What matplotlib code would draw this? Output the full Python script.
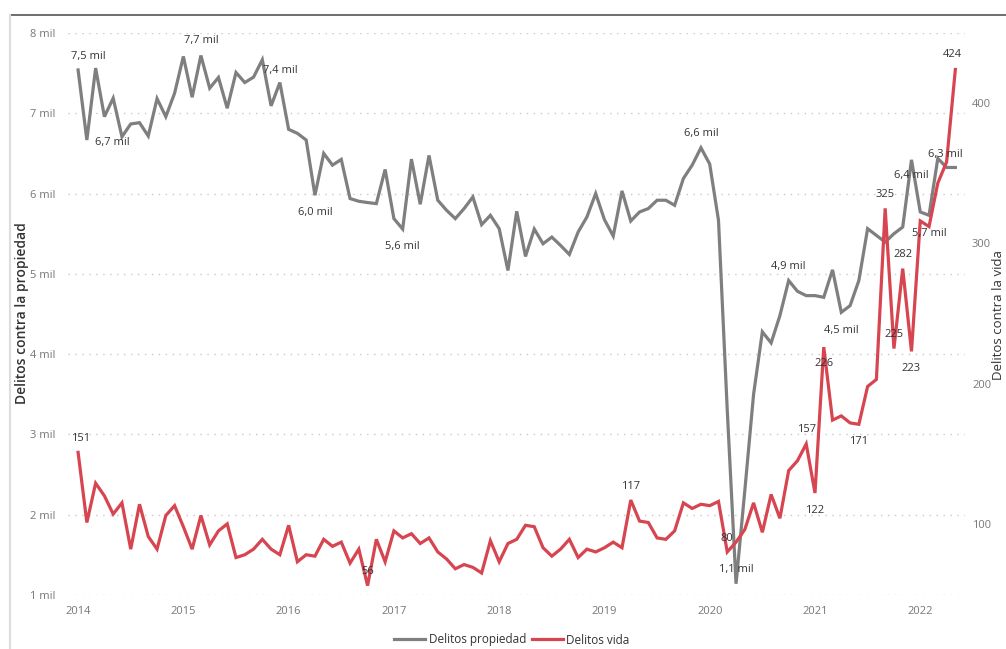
import numpy as np
import matplotlib
matplotlib.use("Agg")
import matplotlib.pyplot as plt
from matplotlib.lines import Line2D

plt.rcParams['font.family'] = ['Open Sans', 'DejaVu Sans']

# monthly series, Jan 2014 .. May 2022
propiedad = [
    7540, 6667, 7563, 6958, 7188, 6708, 6867, 6883, 6717, 7183, 6958, 7250,
    7708, 7200, 7720, 7313, 7446, 7063, 7508, 7383, 7450, 7667, 7092, 7383,
    6800, 6750, 6667, 5979, 6500, 6354, 6425, 5938, 5904, 5888, 5875, 6300,
    5688, 5558, 6429, 5867, 6475, 5917, 5792, 5688, 5813, 5958, 5613, 5729,
    5563, 5042, 5779, 5217, 5558, 5375, 5458, 5354, 5242, 5521, 5708, 6000,
    5675, 5471, 6033, 5658, 5771, 5813, 5917, 5917, 5854, 6188, 6354, 6571,
    6367, 5667, 3300, 1140, 2300, 3500, 4278, 4140, 4480, 4917, 4783, 4729,
    4729, 4708, 5050, 4521, 4604, 4917, 5563, 5479, 5396, 5500, 5583, 6420,
    5771, 5729, 6438, 6325, 6325,
]
vida = [
    151, 101, 129, 120, 107, 115, 82, 114, 91, 82, 106, 113,
    98, 82, 106, 85, 95, 100, 76, 78, 82, 89, 82, 78,
    99, 73, 78, 77, 89, 84, 87, 72, 82, 56, 89, 73,
    95, 90, 93, 86, 90, 80, 75, 68, 71, 69, 65, 88,
    73, 86, 89, 99, 98, 83, 77, 82, 89, 76, 82, 80,
    83, 87, 83, 117, 102, 101, 90, 89, 95, 115, 111, 114,
    113, 116, 80, 87, 96, 115, 94, 121, 104, 138, 145, 157,
    122, 226, 174, 177, 172, 171, 198, 203, 325, 225, 282, 223,
    316, 312, 343, 358, 424,
]
years = ['2014', '2015', '2016', '2017', '2018', '2019', '2020', '2021', '2022']

# (index, dx px, dy px) of data labels
lab_prop = [(0, 10, 13), (5, -10, -6), (14, 0, 15), (23, 0, 12), (27, 0, -17),
            (37, 0, -17), (71, 0, 14), (75, 0, 14), (81, 0, 14), (87, 0, -18),
            (95, 0, -16), (97, 0, -18), (99, -1, 13)]
lab_vida = [(0, 3, 14), (33, 0, 14), (63, 0, 14), (74, 0, 13), (83, 0, 14),
            (84, 0, -17), (85, 0, -16), (89, 0, -17), (92, 0, 14), (93, 0, 14),
            (94, 0, 14), (95, 0, -17), (100, -3, 15)]

x = np.arange(len(propiedad))
grey = '#7f7f7f'
red = '#d64550'
tick_col = '#777777'
txt_col = '#333333'

fig = plt.figure(figsize=(10.06, 6.49), dpi=100)
W, H = 1006, 649
ax = fig.add_axes([68 / W, 1 - 595 / H, (965 - 68) / W, (595 - 33) / H])
ax2 = ax.twinx()

ax.plot(x, propiedad, color=grey, lw=2.3, solid_joinstyle='miter')
ax2.plot(x, vida, color=red, lw=2.3, solid_joinstyle='miter')

ax.set_xlim(-1.15, 101.1)
ax.set_ylim(1000, 8000)
ax2.set_ylim(49.3, 450)

ax.set_xticks(np.arange(0, 97, 12))
ax.set_xticklabels(years)
ax.set_yticks(np.arange(1000, 8001, 1000))
ax.set_yticklabels([f"{v // 1000} mil" for v in range(1000, 8001, 1000)])
ax2.set_yticks([100, 200, 300, 400])

for a in (ax, ax2):
    for s in a.spines.values():
        s.set_visible(False)
    a.tick_params(length=0, colors=tick_col, labelsize=8)
ax.tick_params(axis='x', pad=8)
ax.tick_params(axis='y', pad=9)
ax2.tick_params(axis='y', pad=5)

ax.grid(axis='y', color='#c8c8c8', ls=(0, (1, 4)), lw=1)
ax.set_axisbelow(True)

for i, dx, dy in lab_prop:
    t = f"{propiedad[i] / 1000:.1f} mil".replace('.', ',')
    ax2.annotate(t, (x[i], propiedad[i]), xycoords=ax.transData,
                 xytext=(dx, dy), textcoords='offset pixels',
                 ha='center', va='center', fontsize=8, color=txt_col)
for i, dx, dy in lab_vida:
    ax2.annotate(str(vida[i]), (x[i], vida[i]), xytext=(dx, dy),
                 textcoords='offset pixels', ha='center', va='center',
                 fontsize=8, color=txt_col)

fig.text(22 / W, 1 - 313 / H, 'Delitos contra la propiedad', rotation=90,
         ha='center', va='center', fontsize=10, color=txt_col, fontweight='semibold')
fig.text(999 / W, 1 - 315 / H, 'Delitos contra la vida', rotation=90,
         ha='center', va='center', fontsize=9.5, color=txt_col)

handles = [Line2D([], [], color=grey, lw=2.3), Line2D([], [], color=red, lw=2.3)]
fig.legend(handles, ['Delitos propiedad', 'Delitos vida'], loc='center',
           bbox_to_anchor=(512 / W, 1 - 640 / H), ncol=2, frameon=False,
           fontsize=8.5, handlelength=2.6, handletextpad=0.3, columnspacing=0.5,
           labelcolor=txt_col)

# report frame lines
fig.add_artist(Line2D([10 / W, 1], [1 - 15 / H, 1 - 15 / H], color='#555555', lw=1.2))
fig.add_artist(Line2D([10 / W, 10 / W], [0, 1 - 15 / H], color='#dddddd', lw=1.5))

fig.savefig('out.png', dpi=100)
